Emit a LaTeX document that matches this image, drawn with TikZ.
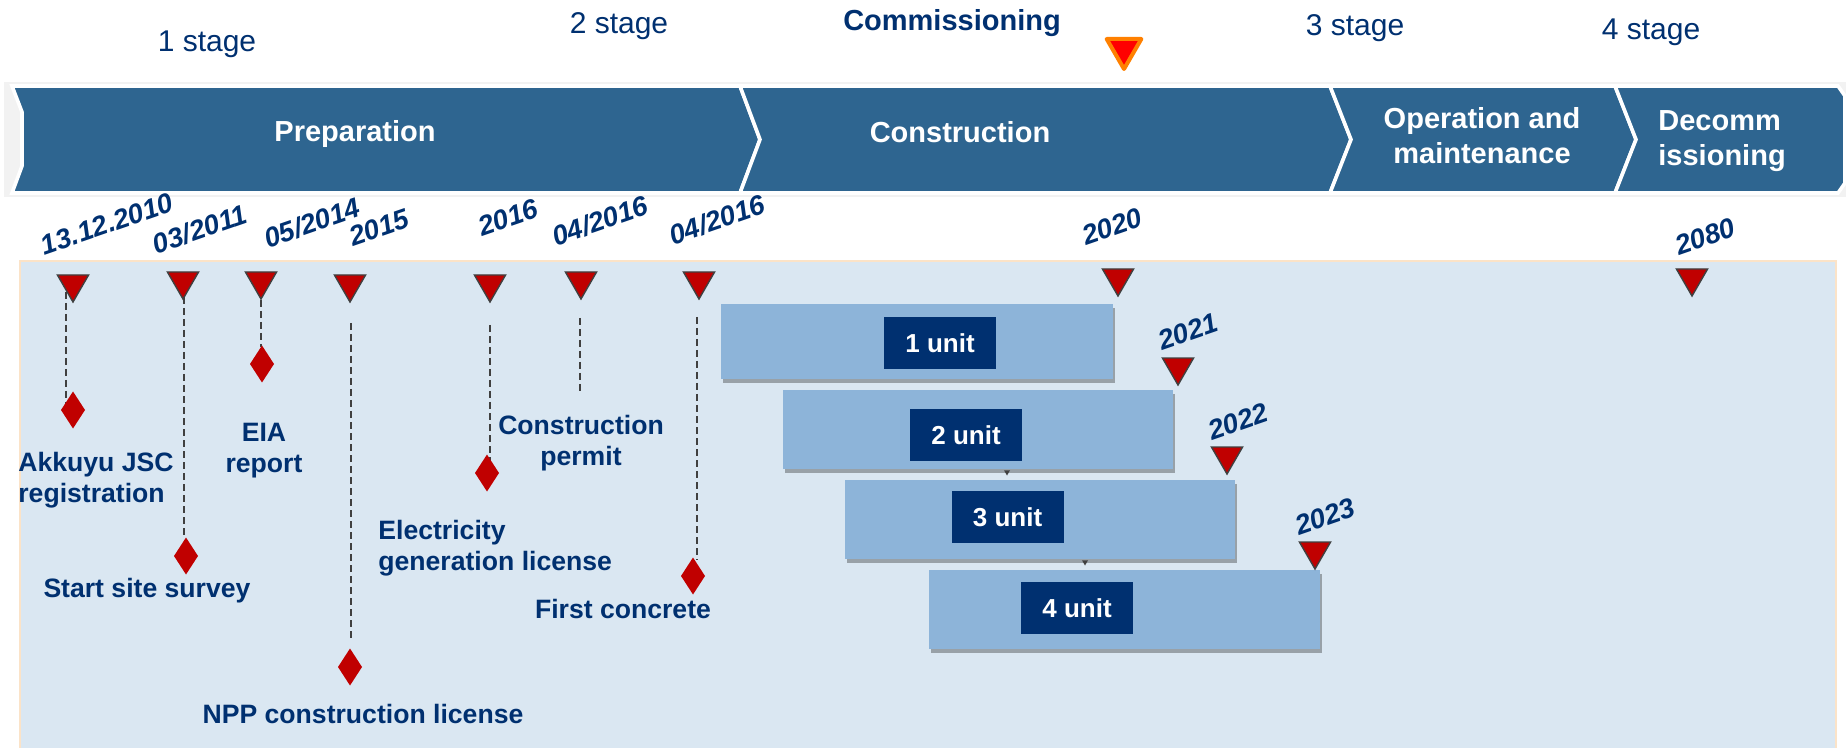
\documentclass[tikz,border=0pt]{standalone}
\usepackage{fontspec}
\setmainfont{Liberation Sans}
\usetikzlibrary{shapes.geometric,shadows}
\definecolor{navy}{HTML}{003070}
\definecolor{bandblue}{HTML}{2E6590}
\definecolor{panelblue}{HTML}{DAE7F2}
\definecolor{peach}{HTML}{FBE3C8}
\definecolor{barblue}{HTML}{8DB4D9}
\definecolor{mred}{HTML}{C00000}
\definecolor{mgray}{HTML}{404040}
\definecolor{stripgray}{HTML}{F2F2F2}
\definecolor{orng}{HTML}{FF8000}
\begin{document}
\begin{tikzpicture}[x=0.5pt,y=-0.5pt,
  stagelbl/.style={font=\fontsize{15}{18}\selectfont, text=navy, inner sep=0, anchor=base},
  bandlbl/.style={font=\bfseries\fontsize{14.5}{17.5}\selectfont, text=white, inner sep=0},
  datelbl/.style={font=\bfseries\itshape\fontsize{13.8}{16}\selectfont, text=navy, inner sep=0, rotate=19},
  mslbl/.style={font=\bfseries\fontsize{13.3}{15.5}\selectfont, text=navy, inner sep=0},
  tri/.style={regular polygon, regular polygon sides=3, shape border rotate=180, minimum size=18pt, inner sep=0, outer sep=0, fill=mred, draw=mgray, line width=0.7pt, anchor=north},
  dia/.style={diamond, minimum width=12pt, minimum height=18.5pt, inner sep=0, outer sep=0, fill=mred},
  dashln/.style={draw=mgray, line width=0.6pt, dash pattern=on 3.5pt off 2pt},
  chev/.style={fill=bandblue, draw=white, line width=1.8pt},
  unitbar/.style={rectangle, fill=barblue, inner sep=0, drop shadow={shadow xshift=1pt, shadow yshift=-2pt, fill=black, opacity=0.3}},
  unitbox/.style={rectangle, fill=navy, text=white, font=\bfseries\fontsize{13}{15}\selectfont, minimum width=56pt, minimum height=26pt, inner sep=0},
  tinymark/.style={regular polygon, regular polygon sides=3, shape border rotate=180, minimum size=3.5pt, inner sep=0, fill=mgray},
]
\useasboundingbox (0,0) rectangle (1846,748);
% background strip and chevrons
\fill[stripgray] (4,82) rectangle (1846,197);
\path[chev] (12,86) -- (740,86) -- (760,139.5) -- (740,193) -- (12,193) -- (22,166) -- (22,112) -- cycle;
\path[chev] (740,86) -- (1330,86) -- (1351,139.5) -- (1330,193) -- (740,193) -- (760,139.5) -- cycle;
\path[chev] (1330,86) -- (1615,86) -- (1636,139.5) -- (1615,193) -- (1330,193) -- (1351,139.5) -- cycle;
\path[chev] (1615,86) -- (1838,86) -- (1845,96) -- (1845,183) -- (1838,193) -- (1615,193) -- (1636,139.5) -- cycle;
\node[bandlbl, anchor=base] (bprep) at (355,142) {Preparation};
\node[bandlbl, anchor=base] (bcons) at (960,143) {Construction};
\node[bandlbl, anchor=north, align=center] (bom) at (1482,107) {Operation and\\maintenance};
\node[bandlbl, anchor=north west, align=left] (bdec) at (1658,110) {Decomm\\issioning};
% stage labels
\node[stagelbl] (s1) at (207,52) {1 stage};
\node[stagelbl] (s2) at (619,34) {2 stage};
\node[stagelbl] (s3) at (1355,36) {3 stage};
\node[stagelbl] (s4) at (1651,40) {4 stage};
\node[font=\bfseries\fontsize{14.5}{17}\selectfont, text=navy, inner sep=0, anchor=base] (comm) at (952,31) {Commissioning};
\node[regular polygon, regular polygon sides=3, shape border rotate=180, minimum size=20pt, inner sep=0, outer sep=0, fill=red, draw=orng, line width=2pt, line join=round, anchor=north] (cmark) at (1124,39) {};
% panel
\fill[panelblue] (20,261) rectangle (1836,760);
\draw[peach, line width=0.8pt] (20,760) -- (20,261) -- (1836,261) -- (1836,760);
% unit bars
\node[unitbar, minimum width=196pt, minimum height=37.5pt] (b1) at (917,341.5) {};
\node[unitbar, minimum width=195pt, minimum height=39.5pt] (b2) at (978,429.5) {};
\node[unitbar, minimum width=195pt, minimum height=39.5pt] (b3) at (1040,519.5) {};
\node[unitbar, minimum width=195.5pt, minimum height=39.5pt] (b4) at (1124.5,609.5) {};
\node[unitbox] (u1) at (940,343) {1 unit};
\node[unitbox] (u2) at (966,435) {2 unit};
\node[unitbox] (u3) at (1007.5,517) {3 unit};
\node[unitbox] (u4) at (1077,608) {4 unit};
\node[tinymark] (m1) at (1007,472) {};
\node[tinymark] (m2) at (1085,562) {};
% dashed leader lines
\coordinate (l1) at (66,292);
\coordinate (l1e) at (66,410);
\coordinate (l2) at (184,297);
\coordinate (l2e) at (184,538);
\coordinate (l3) at (261,300);
\coordinate (l3e) at (261,347);
\coordinate (l4) at (351,323);
\coordinate (l4e) at (351,638);
\coordinate (l5) at (490,325);
\coordinate (l5e) at (490,473);
\coordinate (l6) at (580,318);
\coordinate (l6e) at (580,393);
\coordinate (l7) at (697,317);
\coordinate (l7e) at (697,560);
\draw[dashln] (l1) -- (l1e);
\draw[dashln] (l2) -- (l2e);
\draw[dashln] (l3) -- (l3e);
\draw[dashln] (l4) -- (l4e);
\draw[dashln] (l5) -- (l5e);
\draw[dashln] (l6) -- (l6e);
\draw[dashln] (l7) -- (l7e);
% diamonds
\node[dia] (D1) at (73,410) {};
\node[dia] (D2) at (186,556) {};
\node[dia] (D3) at (262,364) {};
\node[dia] (D4) at (350,667) {};
\node[dia] (D5) at (487,473) {};
\node[dia] (D7) at (693,576) {};
% milestone triangles
\node[tri] (T1) at (73,275) {};
\node[tri] (T2) at (183,272) {};
\node[tri] (T3) at (261,272) {};
\node[tri] (T4) at (350,275) {};
\node[tri] (T5) at (490,275) {};
\node[tri] (T6) at (581,272) {};
\node[tri] (T7) at (699,272) {};
\node[tri] (T20) at (1118,269) {};
\node[tri] (T21) at (1178,358) {};
\node[tri] (T22) at (1227,447) {};
\node[tri] (T23) at (1315,542) {};
\node[tri] (T80) at (1692,269) {};
% dates
\node[datelbl] (d1) at (107,224) {13.12.2010};
\node[datelbl] (d2) at (200,229) {03/2011};
\node[datelbl] (d3) at (312,223) {05/2014};
\node[datelbl] (d4) at (379,228) {2015};
\node[datelbl] (d5) at (508,218) {2016};
\node[datelbl] (d6) at (600,221) {04/2016};
\node[datelbl] (d7) at (717,220) {04/2016};
\node[datelbl] (d20) at (1112,227) {2020};
\node[datelbl] (d21) at (1188,332) {2021};
\node[datelbl] (d22) at (1238,422) {2022};
\node[datelbl] (d23) at (1325,517) {2023};
\node[datelbl] (d80) at (1705,237) {2080};
% milestone labels
\node[mslbl, anchor=north west, align=left] (lakk) at (18,452) {Akkuyu JSC\\registration};
\node[mslbl, anchor=base] (lsss) at (147,597) {Start site survey};
\node[mslbl, anchor=north, align=center] (leia) at (264,423) {EIA\\report};
\node[mslbl, anchor=base] (lnpp) at (363,723) {NPP construction license};
\node[mslbl, anchor=north west, align=left] (lelg) at (378,520) {Electricity\\generation license};
\node[mslbl, anchor=north, align=center] (lcp) at (581,415) {Construction\\permit};
\node[mslbl, anchor=base] (lfc) at (623,618) {First concrete};
\end{tikzpicture}
\end{document}
